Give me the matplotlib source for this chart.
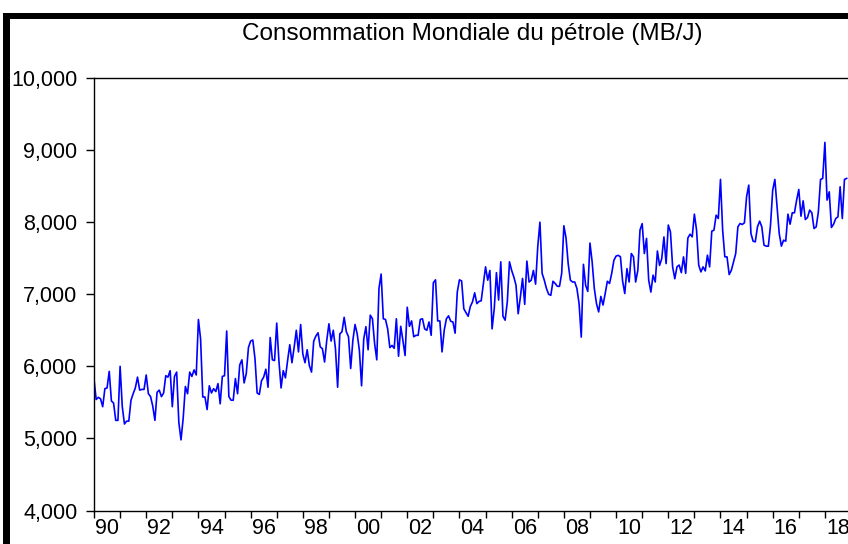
import matplotlib
matplotlib.use("Agg")
import matplotlib.pyplot as plt
import numpy as np
from matplotlib.patches import Rectangle
from matplotlib.ticker import FuncFormatter, FixedLocator

title = "Consommation Mondiale du pétrole (MB/J)"
start_year = 1990

# monthly values (thousand barrels / day scale as in the chart)
values_1990s = [
    5820, 5540, 5570, 5550, 5440, 5690, 5700, 5930, 5520, 5490, 5250, 5250,
    6000, 5440, 5200, 5240, 5240, 5530, 5620, 5700, 5850, 5670, 5680, 5680,
    5880, 5620, 5580, 5450, 5250, 5640, 5670, 5580, 5630, 5870, 5850, 5940,
    5440, 5860, 5920, 5220, 4980, 5280, 5720, 5620, 5920, 5860, 5950, 5880,
    6650, 6380, 5575, 5575, 5400, 5730, 5630, 5690, 5650, 5760, 5480, 5860,
    5870, 6490, 5580, 5530, 5530, 5830, 5620, 6020, 6090, 5770, 5900, 6260,
    6350, 6365, 6110, 5630, 5610, 5800, 5850, 5960, 5710, 6400, 6090, 6080,
    6600, 6080, 5700, 5940, 5840, 6080, 6300, 6050, 6260, 6500, 6200, 6580,
    6170, 6050, 6230, 6010, 5920, 6350, 6420, 6465, 6270, 6245, 6060, 6360,
    6590, 6350, 6500, 6245, 5710, 6450, 6480, 6680, 6480, 6410, 5970, 6360,
]
values_2000s = [
    6580, 6450, 6220, 5730, 6380, 6550, 6230, 6710, 6660, 6315, 6090, 7080,
    7280, 6660, 6650, 6520, 6260, 6290, 6250, 6660, 6140, 6555, 6360, 6150,
    6820, 6555, 6630, 6410, 6430, 6430, 6650, 6660, 6520, 6500, 6615, 6430,
    7160, 7200, 6630, 6630, 6200, 6500, 6660, 6700, 6625, 6615, 6460, 7030,
    7200, 7185, 6800, 6745, 6695, 6830, 6895, 7020, 6870, 6900, 6910, 7150,
    7380, 7195, 7330, 6520, 6800, 7300, 6920, 7450, 6695, 6640, 6895, 7450,
    7330, 7240, 7125, 6730, 6960, 7220, 6860, 7460, 7170, 7195, 7330, 7140,
    7660, 8000, 7290, 7195, 7080, 7000, 6985, 7180, 7150, 7110, 7110, 7290,
    7950, 7780, 7420, 7195, 7170, 7170, 7080, 6870, 6405, 7415, 7125, 7040,
    7710, 7450, 7080, 6870, 6755, 6970, 6850, 7010, 7180, 7150, 7290, 7470,
]
values_2010s = [
    7530, 7540, 7520, 7185, 7010, 7355, 7170, 7565, 7520, 7170, 7330, 7890,
    7980, 7565, 7775, 7195, 7030, 7265, 7170, 7600, 7400, 7495, 7795, 7425,
    7960, 7865, 7380, 7215, 7380, 7405, 7300, 7518, 7290, 7780, 7833, 7796,
    8111, 7889, 7403, 7310, 7380, 7324, 7542, 7380, 7875, 7889, 8097, 8051,
    8593, 7889, 7519, 7519, 7273, 7333, 7449, 7565, 7935, 7982, 7968, 7991,
    8352, 8514, 7843, 7736, 7727, 7935, 8014, 7935, 7681, 7667, 7667, 7958,
    8445, 8593, 8213, 7843, 7667, 7750, 7736, 8111, 7972, 8130, 8130, 8306,
    8454, 8083, 8296, 8037, 8065, 8167, 8130, 7912, 7935, 8144, 8593, 8607,
    9107, 8306, 8421, 7926, 7972, 8051, 8074, 8491, 8051, 8593, 8607,
]
y_ticks = [4000, 5000, 6000, 7000, 8000, 9000, 10000]
label_years = list(range(1990, 2019, 2))
x_tick_labels = [f"{y % 100:02d}" for y in label_years]

values = np.array(values_1990s + values_2000s + values_2010s, dtype=float)
t = start_year + np.arange(len(values)) / 12.0

plt.rcParams['font.family'] = ['Liberation Sans', 'DejaVu Sans']

W, H = 848, 544
fig = plt.figure(figsize=(W / 100, H / 100), dpi=100)
fig.patch.set_facecolor("white")

ax_l, ax_r, ax_t, ax_b = 94, 851, 78, 510.5
ax = fig.add_axes([ax_l / W, (H - ax_b) / H, (ax_r - ax_l) / W, (ax_b - ax_t) / H])
ax.plot(t, values, color="#0000FF", lw=1.2)
ax.set_xlim(1990, 2019)
ax.set_ylim(4000, 10000)

for s in ax.spines.values():
    s.set_linewidth(1.0)
    s.set_color("black")

ax.yaxis.set_major_locator(FixedLocator(y_ticks))
ax.yaxis.set_major_formatter(FuncFormatter(lambda v, p: f"{int(v):,}"))
ax.tick_params(axis="y", direction="out", length=6, width=1.0, pad=6.0,
               labelsize=15.5, colors="black")

ax.xaxis.set_major_locator(FixedLocator(np.arange(1990, 2020)))
ax.xaxis.set_major_formatter(FuncFormatter(lambda v, p: ""))
ax.xaxis.set_minor_locator(FixedLocator([y + 0.5 for y in label_years]))
ax.set_xticklabels(x_tick_labels, minor=True)
ax.tick_params(axis="x", which="major", direction="out", length=5, width=1.0)
ax.tick_params(axis="x", which="minor", length=0, pad=5.5, labelsize=15.5)

fig.text((ax_l + ax_r) / 2 / W, 1 - 34 / H, title, ha="center", va="center",
         fontsize=17.5, color="black")

# thick frame (left and top)
fig.add_artist(Rectangle((3 / W, 0), 7 / W, 1 - 13 / H, transform=fig.transFigure,
                         facecolor="black", edgecolor="none"))
fig.add_artist(Rectangle((3 / W, 1 - 18.5 / H), 1, 5.5 / H, transform=fig.transFigure,
                         facecolor="black", edgecolor="none"))

fig.savefig("out.png", dpi=100)
